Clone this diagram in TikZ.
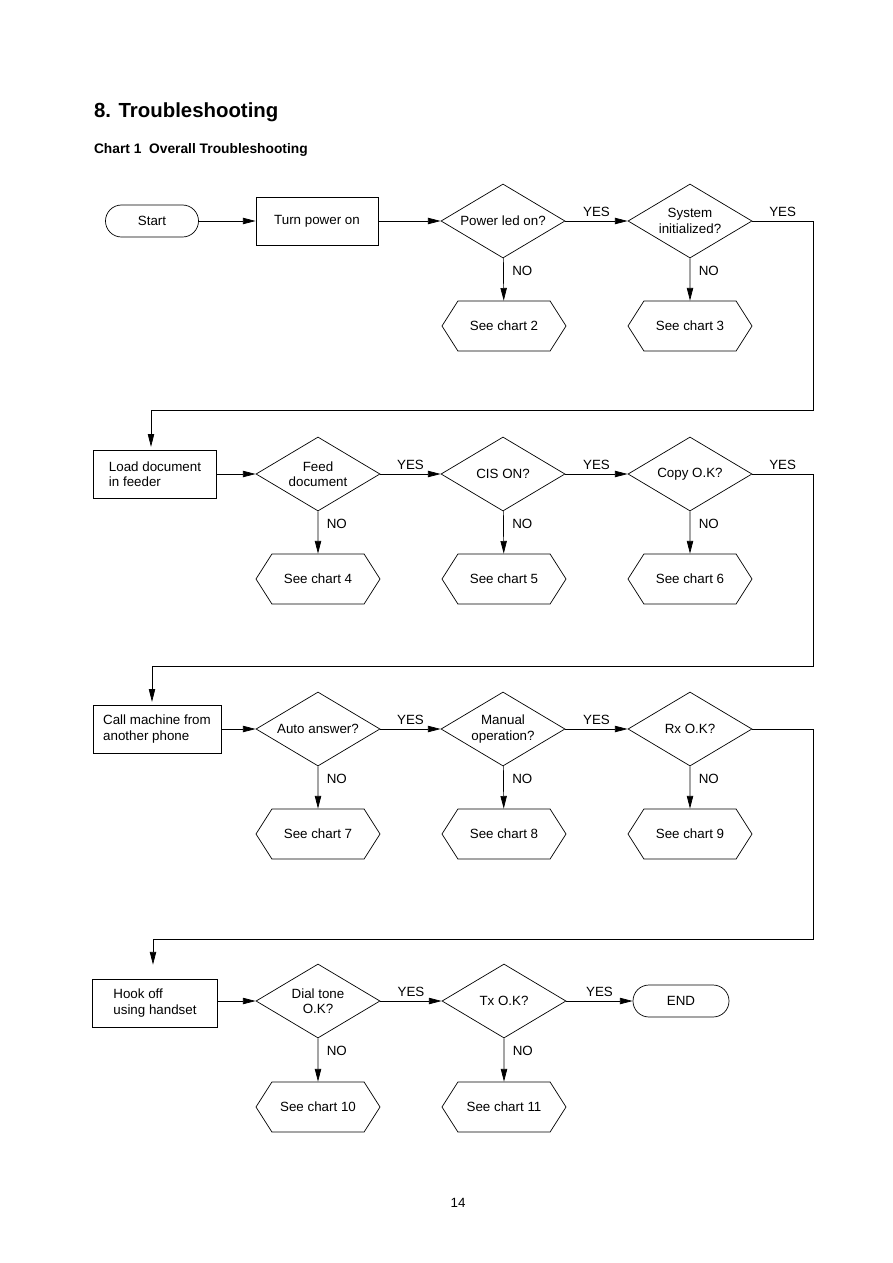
\documentclass[tikz,border=0pt]{standalone}
\usepackage{fontspec}
\setmainfont{Liberation Sans}
\usetikzlibrary{shapes.geometric, shapes.symbols, arrows.meta}

\tikzset{
  procBox/.style={draw, rectangle, minimum height=1.2cm, inner sep=2pt, align=left},
  decision/.style={draw, diamond, aspect=1.67, minimum width=3.1cm, minimum height=1.85cm,
    inner sep=0pt, align=center},
  seeChart/.style={draw, signal, signal to=east and west, signal pointer angle=115,
    minimum width=3.1cm, minimum height=1.25cm, inner sep=0pt},
  terminal/.style={draw, rectangle, rounded corners=0.4cm, minimum height=0.8cm},
  flow/.style={-{Triangle[length=9pt,width=4.5pt]}},
  tag/.style={inner sep=1pt},
  noTag/.style={tag, right, xshift=5pt, pos=0.3},
  yesTag/.style={tag, above, yshift=2pt},
}

\begin{document}
\begin{tikzpicture}[x=0.025cm, y=-0.025cm, line width=0.5pt,
    every node/.style={font=\fontsize{9.5}{11}\selectfont}]
  \useasboundingbox (0,0) rectangle (893,1263);

  % headings
  \node[anchor=west, font=\bfseries\fontsize{14.5}{17}\selectfont] (title) at (89,112) {8. Troubleshooting};
  \node[anchor=west, font=\bfseries\fontsize{9.8}{12}\selectfont] (subtitle) at (89,150) {Chart 1\ \ Overall Troubleshooting};

  % row 1
  \node[terminal, minimum width=2.325cm] (start) at (152,221) {Start};
  \node[procBox, minimum width=3.05cm, align=center] (power) at (317,221) {Turn power on};
  \node[decision] (led) at (503,221) {Power led on?};
  \node[decision] (init) at (690,221) {System\\initialized?};
  \node[seeChart] (c2) at (504,326) {See chart 2};
  \node[seeChart] (c3) at (690,326) {See chart 3};

  \draw[flow] (start) -- (power);
  \draw[flow] (power) -- (led);
  \draw[flow] (led) -- node[yesTag] {YES} (init);
  \draw[flow] (led) -- node[noTag] {NO} (c2);
  \draw[flow] (init) -- node[noTag] {NO} (c3);

  % row 2
  \node[procBox, minimum width=3.075cm] (load) at (155,474) {Load document\\in feeder};
  \node[decision] (feed) at (318,474) {Feed\\document};
  \node[decision] (cis) at (503,474) {CIS ON?};
  \node[decision] (copy) at (690,474) {Copy O.K?};
  \node[seeChart] (c4) at (318,579) {See chart 4};
  \node[seeChart] (c5) at (504,579) {See chart 5};
  \node[seeChart] (c6) at (690,579) {See chart 6};
  \coordinate (ret1) at (813,410);
  \coordinate (ret1b) at (151,410);

  \draw[flow, shorten >=2pt] (init.east) -- node[yesTag] {YES} (init.east -| ret1)
    -- (ret1) -- (ret1b) -- (ret1b |- load.north);
  \draw[flow] (load) -- (feed);
  \draw[flow] (feed) -- node[yesTag] {YES} (cis);
  \draw[flow] (cis) -- node[yesTag] {YES} (copy);
  \draw[flow] (feed) -- node[noTag] {NO} (c4);
  \draw[flow] (cis) -- node[noTag] {NO} (c5);
  \draw[flow] (copy) -- node[noTag] {NO} (c6);

  % row 3
  \node[procBox, minimum width=3.2cm] (call) at (157,729) {Call machine from\\another phone};
  \node[decision] (auto) at (318,729) {Auto answer?};
  \node[decision] (manual) at (503,729) {Manual\\operation?};
  \node[decision] (rx) at (690,729) {Rx O.K?};
  \node[seeChart] (c7) at (318,834) {See chart 7};
  \node[seeChart] (c8) at (504,834) {See chart 8};
  \node[seeChart] (c9) at (690,834) {See chart 9};
  \coordinate (ret2) at (813,666);
  \coordinate (ret2b) at (152,666);

  \draw[flow, shorten >=2pt] (copy.east) -- node[yesTag] {YES} (copy.east -| ret2)
    -- (ret2) -- (ret2b) -- (ret2b |- call.north);
  \draw[flow] (call) -- (auto);
  \draw[flow] (auto) -- node[yesTag] {YES} (manual);
  \draw[flow] (manual) -- node[yesTag] {YES} (rx);
  \draw[flow] (auto) -- node[noTag] {NO} (c7);
  \draw[flow] (manual) -- node[noTag] {NO} (c8);
  \draw[flow] (rx) -- node[noTag] {NO} (c9);

  % row 4
  \node[procBox, minimum width=3.125cm] (hook) at (155,1003) {Hook off\\using handset};
  \node[decision] (dial) at (318,1001) {Dial tone\\O.K?};
  \node[decision] (tx) at (504,1001) {Tx O.K?};
  \node[terminal, minimum width=2.4cm] (finish) at (681,1001) {END};
  \node[seeChart] (c10) at (318,1107) {See chart 10};
  \node[seeChart] (c11) at (504,1107) {See chart 11};
  \coordinate (ret3) at (813,939);
  \coordinate (ret3b) at (153,939);

  \draw[flow, shorten >=0.35cm] (rx.east) -- (rx.east -| ret3)
    -- (ret3) -- (ret3b) -- (ret3b |- hook.north);
  \draw[flow] (hook.east |- dial) -- (dial);
  \draw[flow] (dial) -- node[yesTag] {YES} (tx);
  \draw[flow] (tx) -- node[yesTag] {YES} (finish);
  \draw[flow] (dial) -- node[noTag] {NO} (c10);
  \draw[flow] (tx) -- node[noTag] {NO} (c11);

  \node (page) at (458,1203) {14};
\end{tikzpicture}
\end{document}
